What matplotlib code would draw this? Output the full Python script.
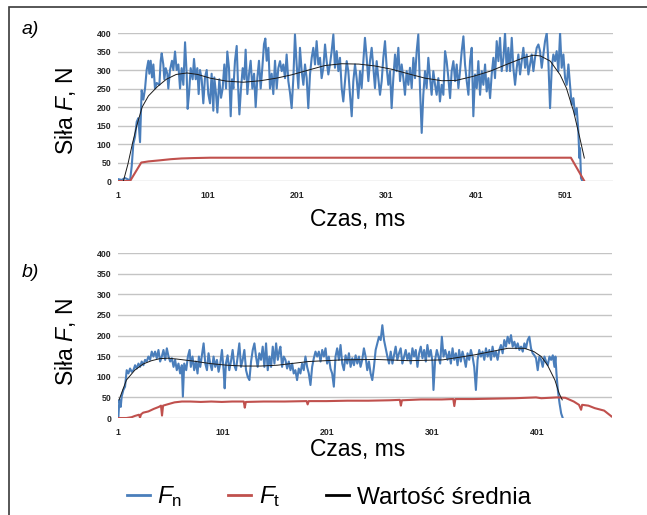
import matplotlib
matplotlib.use("Agg")
import matplotlib.pyplot as plt
from matplotlib.lines import Line2D
from matplotlib.patches import Rectangle

plt.rcParams["font.family"] = ["Liberation Sans", "DejaVu Sans"]
plt.rcParams["mathtext.fontset"] = "custom"
plt.rcParams["mathtext.rm"] = "Liberation Sans"
plt.rcParams["mathtext.it"] = "Liberation Sans:italic"

# (czas ms, sila N)
fn_a = [(1.4, 5), (5.1, 3), (8.8, 8), (12.5, 4), (14.4, 0), (16.3, 40), (18.1, 100), (20.0, 120),
        (21.9, 160), (23.7, 170), (25.6, 105), (27.4, 245), (29.3, 220), (31.2, 250), (33.0, 300),
        (34.9, 325), (36.0, 290), (37.5, 325), (39.0, 280), (40.5, 315), (42.3, 250), (44.2, 265),
        (47.2, 260), (48.7, 325), (49.8, 345), (51.6, 315), (52.8, 275), (54.3, 305), (56.1, 290),
        (57.2, 250), (59.1, 300), (61.3, 325), (62.8, 300), (64.7, 350), (66.5, 300), (68.4, 315),
        (70.3, 250), (72.1, 305), (74.0, 260), (75.9, 375), (77.7, 290), (78.8, 195), (80.3, 235),
        (82.2, 305), (84.4, 275), (85.9, 330), (87.8, 275), (89.6, 305), (91.1, 235), (92.6, 300),
        (94.5, 275), (96.3, 210), (98.2, 280), (100.1, 300), (101.9, 235), (103.8, 210), (105.6, 290),
        (107.5, 190), (108.6, 280), (110.5, 235), (112.0, 185), (114.2, 275), (116.1, 225), (117.9, 250),
        (119.8, 315), (121.7, 250), (123.1, 350), (125.0, 305), (126.9, 175), (128.4, 275), (129.9, 250),
        (131.7, 325), (133.6, 365), (135.1, 260), (136.6, 180), (138.4, 250), (140.3, 305), (142.1, 275),
        (143.6, 355), (145.5, 235), (147.4, 290), (149.2, 325), (151.1, 250), (153.0, 290), (154.8, 200),
        (156.7, 280), (158.5, 325), (160.4, 250), (162.2, 305), (164.1, 370), (165.6, 385), (167.1, 325),
        (169.0, 360), (170.8, 250), (172.7, 290), (174.5, 235), (176.4, 325), (178.3, 250), (180.1, 305),
        (182.0, 324), (183.9, 297), (185.7, 315), (187.6, 278), (189.4, 342), (191.3, 270), (193.2, 238),
        (195.0, 197), (196.9, 278), (198.7, 396), (200.6, 315), (202.5, 251), (204.3, 360), (206.2, 297),
        (208.1, 260), (209.9, 315), (211.8, 278), (213.6, 197), (215.5, 288), (217.4, 333), (219.2, 360),
        (221.1, 315), (222.9, 378), (224.8, 315), (226.7, 333), (228.5, 278), (230.4, 306), (232.3, 369),
        (234.1, 324), (236.0, 288), (237.8, 315), (239.7, 351), (241.6, 396), (243.4, 306), (245.3, 351),
        (247.2, 297), (249.0, 333), (250.9, 251), (252.7, 215), (254.6, 270), (256.5, 324), (258.3, 297),
        (260.2, 233), (262.1, 175), (263.9, 270), (265.8, 315), (267.6, 278), (269.5, 224), (271.4, 297),
        (273.2, 251), (275.1, 324), (276.9, 387), (278.8, 333), (280.7, 270), (282.5, 324), (284.4, 360),
        (286.3, 306), (288.1, 251), (290.0, 324), (291.8, 278), (293.7, 233), (295.6, 270), (297.4, 333),
        (299.3, 378), (301.2, 306), (303.0, 260), (304.9, 297), (306.7, 197), (308.6, 278), (310.5, 342),
        (312.3, 297), (314.2, 360), (316.1, 270), (317.9, 315), (319.8, 278), (321.6, 233), (323.5, 297),
        (325.4, 260), (327.2, 306), (329.1, 251), (331.0, 333), (332.8, 278), (334.7, 351), (336.5, 396),
        (338.4, 251), (340.3, 130), (342.1, 233), (344.0, 297), (345.8, 251), (347.7, 333), (349.6, 278),
        (351.4, 233), (353.3, 297), (355.2, 260), (357.0, 233), (358.9, 278), (360.7, 215), (362.6, 260),
        (364.5, 233), (366.4, 351), (368.2, 324), (370.1, 278), (372.0, 224), (373.8, 297), (375.7, 324),
        (377.6, 270), (379.4, 315), (381.3, 251), (383.1, 297), (385.0, 351), (386.9, 391), (388.7, 315),
        (390.6, 270), (392.5, 233), (394.3, 324), (396.2, 360), (398.0, 175), (399.9, 288), (401.8, 251),
        (403.6, 324), (405.5, 233), (407.4, 297), (409.2, 260), (411.1, 315), (412.9, 242), (414.8, 278),
        (416.7, 224), (418.5, 288), (420.4, 333), (422.2, 278), (424.1, 378), (426.0, 324), (427.8, 387),
        (429.7, 297), (431.6, 333), (433.4, 400), (435.3, 297), (437.1, 360), (439.0, 297), (440.9, 387),
        (442.7, 306), (444.6, 260), (446.5, 306), (448.3, 342), (450.2, 288), (452.0, 324), (453.9, 360),
        (455.8, 306), (457.6, 342), (459.5, 288), (461.3, 315), (463.2, 342), (465.1, 297), (466.9, 333),
        (468.8, 360), (470.7, 369), (472.5, 351), (474.4, 306), (476.2, 342), (478.1, 378), (480.0, 400),
        (481.8, 324), (483.7, 197), (485.6, 306), (487.4, 342), (489.3, 324), (491.1, 351), (493.0, 297),
        (494.9, 400), (496.7, 306), (498.6, 342), (500.5, 278), (502.3, 260), (504.2, 315), (506.0, 260),
        (507.9, 206), (509.8, 224), (511.6, 179), (513.5, 197), (515.3, 134), (516.5, 62), (517.2, 89),
        (518.3, 8), (519.8, 0)]

ft_a = [(1, 0), (14.5, 0), (27, 50), (35, 53), (48, 56), (60, 59), (72, 61), (85, 62), (104, 63),
        (200, 63), (300, 63), (400, 63), (507, 63), (522, 0)]

mean_a = [(7, 0), (12, 45), (17, 100), (22, 150), (28, 200), (35, 230), (45, 255), (55, 275), (66, 288),
          (78, 292), (90, 288), (104, 278), (122, 270), (141, 267), (160, 271), (178, 278), (195, 287),
          (214, 300), (232, 312), (251, 317), (270, 316), (288, 311), (307, 302), (325, 290), (344, 278),
          (363, 271), (379, 272), (398, 283), (417, 297), (435, 315), (454, 333), (465, 340), (473, 338),
          (484, 324), (495, 287), (502, 251), (510, 188), (517, 116), (522, 62)]

fn_b = [(1.3, 0), (2.3, 44), (3.6, 27), (4.5, 52), (6.1, 68), (7.7, 76), (9.3, 116), (10.9, 108),
        (12.5, 120), (14.1, 112), (15.7, 116), (17.3, 128), (18.9, 120), (20.5, 132), (22.1, 124),
        (23.6, 137), (25.2, 128), (26.8, 141), (28.4, 137), (30.0, 149), (31.6, 141), (33.2, 161),
        (34.8, 149), (36.4, 161), (38.0, 145), (39.6, 165), (41.2, 137), (42.8, 149), (44.4, 165),
        (46.0, 141), (47.6, 169), (49.2, 149), (50.8, 137), (52.4, 145), (54.0, 124), (55.5, 141),
        (57.1, 116), (58.7, 132), (60.3, 108), (61.9, 128), (62.9, 52), (64.2, 132), (66.1, 116),
        (67.7, 149), (69.3, 165), (70.5, 124), (72.1, 149), (73.7, 116), (75.3, 137), (76.9, 108),
        (78.2, 149), (79.5, 124), (81.4, 157), (82.7, 181), (84.3, 132), (85.9, 116), (87.4, 157),
        (89.0, 132), (90.6, 116), (92.2, 149), (93.8, 124), (95.4, 141), (97.0, 112), (98.6, 132),
        (100.2, 165), (101.8, 116), (102.8, 72), (104.0, 132), (105.6, 152), (107.2, 116), (108.8, 137),
        (110.4, 165), (112.0, 128), (113.6, 116), (115.2, 149), (116.8, 181), (118.4, 124), (120.0, 141),
        (121.6, 165), (123.2, 116), (124.8, 100), (126.4, 92), (128.0, 137), (129.6, 165), (131.2, 181),
        (132.7, 149), (134.3, 124), (135.9, 157), (137.5, 141), (139.1, 173), (140.7, 124), (142.3, 181),
        (143.9, 116), (145.5, 149), (147.1, 124), (148.7, 173), (150.3, 132), (151.9, 181), (153.5, 141),
        (155.1, 165), (156.0, 173), (157.6, 124), (159.2, 149), (160.8, 141), (162.4, 120), (164.0, 137),
        (165.6, 116), (167.2, 132), (168.7, 108), (170.3, 116), (171.9, 92), (173.5, 120), (175.1, 108),
        (176.7, 132), (178.3, 116), (179.9, 149), (181.5, 124), (183.1, 108), (184.7, 80), (186.3, 124),
        (187.9, 145), (189.5, 161), (191.1, 149), (192.7, 161), (194.3, 137), (195.9, 165), (197.5, 149),
        (199.1, 169), (200.6, 132), (202.2, 149), (203.8, 120), (205.4, 108), (207.0, 76), (208.6, 149),
        (210.2, 169), (211.8, 141), (213.4, 177), (215.0, 132), (216.6, 116), (218.2, 152), (219.8, 132),
        (221.4, 157), (223.0, 124), (224.6, 145), (226.2, 128), (227.8, 152), (229.4, 132), (231.0, 149),
        (232.5, 124), (234.1, 141), (235.7, 169), (237.3, 149), (238.9, 116), (240.5, 137), (242.1, 108),
        (243.7, 92), (245.3, 124), (246.9, 165), (248.5, 181), (250.1, 197), (251.7, 189), (253.3, 225),
        (254.9, 189), (256.5, 169), (258.1, 149), (259.7, 132), (261.3, 161), (262.9, 132), (264.4, 152),
        (266.0, 173), (267.6, 141), (269.2, 157), (270.8, 169), (272.4, 132), (274.0, 149), (275.6, 165),
        (277.2, 141), (278.8, 157), (280.4, 132), (282.0, 169), (283.6, 149), (285.2, 165), (286.8, 124),
        (288.4, 157), (290.0, 173), (291.6, 145), (293.2, 165), (294.8, 137), (296.3, 177), (297.9, 149),
        (299.5, 165), (301.1, 137), (302.1, 68), (303.7, 141), (305.3, 165), (306.9, 149), (308.5, 132),
        (310.1, 197), (311.7, 149), (313.3, 165), (315.5, 141), (317.1, 161), (318.7, 132), (320.3, 169),
        (321.9, 141), (323.5, 157), (325.1, 128), (326.6, 165), (328.2, 137), (329.8, 161), (331.4, 145),
        (333.0, 124), (334.6, 157), (336.2, 141), (337.8, 165), (339.4, 149), (341.0, 124), (342.6, 68),
        (344.2, 141), (345.8, 165), (347.4, 149), (349.0, 161), (350.6, 141), (352.2, 169), (353.8, 149),
        (355.4, 165), (357.0, 141), (358.5, 173), (360.1, 149), (361.7, 161), (363.3, 141), (364.9, 165),
        (366.5, 177), (368.1, 157), (369.7, 189), (371.3, 173), (372.9, 197), (374.5, 181), (376.1, 201),
        (377.7, 173), (379.3, 185), (380.9, 169), (382.5, 181), (384.1, 165), (385.7, 173), (387.3, 161),
        (388.9, 181), (390.4, 169), (392.0, 189), (393.6, 197), (395.2, 169), (396.8, 157), (398.4, 152),
        (400.0, 145), (401.6, 116), (403.2, 149), (404.8, 141), (406.4, 124), (408.0, 149), (409.6, 137),
        (411.2, 128), (412.8, 149), (414.4, 141), (416.0, 152), (417.6, 124), (418.5, 149), (419.5, 108),
        (420.8, 68), (422.4, 36), (424.0, 11), (425.5, 0)]

ft_b = [(1, 0), (9, 0), (14, 2), (17, 5), (21, 8), (22, 1), (23, 9), (25, 13), (30, 16), (35, 22),
        (40, 27), (42, 30), (43, 6), (44, 30), (48, 33), (55, 38), (62, 40), (70, 40), (80, 39), (90, 40),
        (100, 39), (110, 40), (121, 40), (122, 25), (123, 39), (140, 40), (160, 40), (181, 41), (182, 33),
        (183, 41), (200, 41), (220, 42), (240, 42), (260, 43), (270, 44), (271, 30), (272, 43), (290, 45),
        (310, 45), (321, 46), (322, 29), (323, 46), (340, 46), (360, 47), (380, 48), (400, 50), (405, 48),
        (420, 50), (428, 49), (436, 40), (441, 32), (443, 20), (444, 32), (450, 30), (456, 24), (465, 18),
        (472, 4)]

mean_b = [(2, 44), (9, 92), (17, 116), (25, 131), (33, 139), (41, 144), (49, 145), (57, 143), (73, 138),
          (89, 132), (105, 128), (121, 126), (137, 126), (153, 128), (183, 137), (215, 141), (247, 142),
          (279, 139), (311, 141), (341, 153), (357, 161), (373, 169), (389, 169), (398, 161), (405, 149),
          (411, 128), (418, 92), (422, 60), (425, 44)]

xticks_a = [1, 101, 201, 301, 401, 501]
xticks_b = [1, 101, 201, 301, 401]
yticks = [0, 50, 100, 150, 200, 250, 300, 350, 400]

blue = "#4a7ebb"
red = "#c0504d"

fig = plt.figure(figsize=(6.47, 5.15), dpi=100)
fig.patches.append(Rectangle((0.0139, -0.2), 1.2, 1.1864, transform=fig.transFigure,
                             fill=False, edgecolor="#3a3a3a", lw=1.2))

ax_a = fig.add_axes([0.1824, 0.6485, 0.765, 0.2874])
ax_b = fig.add_axes([0.1824, 0.1883, 0.7635, 0.3204])


def draw(ax, fn, ft, mean, xmax, xticks):
    t, v = zip(*fn)
    ax.plot(t, v, color=blue, lw=1.5)
    t, v = zip(*ft)
    ax.plot(t, v, color=red, lw=1.5)
    t, v = zip(*mean)
    ax.plot(t, v, color="#1a1a1a", lw=0.7)
    ax.set_xlim(1, xmax)
    ax.set_ylim(0, 400)
    ax.set_xticks(xticks)
    ax.set_yticks(yticks)
    ax.grid(axis="y", color="#c4c4c4", lw=1)
    ax.set_axisbelow(True)
    for s in ax.spines.values():
        s.set_visible(False)
    ax.tick_params(length=0, labelsize=6.3, labelcolor="#262626")
    ax.tick_params(axis="y", pad=5)
    ax.tick_params(axis="x", pad=7)
    for lab in ax.get_xticklabels() + ax.get_yticklabels():
        lab.set_fontweight("bold")


draw(ax_a, fn_a, ft_a, mean_a, 554, xticks_a)
draw(ax_b, fn_b, ft_b, mean_b, 472.5, xticks_b)

fig.text(0.034, 0.942, "a)", fontsize=14, style="italic", va="center")
fig.text(0.034, 0.470, "b)", fontsize=14, style="italic", va="center")
fig.text(0.102, 0.7845, "Siła $F$, N", rotation=90, fontsize=16.5, ha="center", va="center")
fig.text(0.102, 0.336, "Siła $F$, N", rotation=90, fontsize=16.5, ha="center", va="center")
fig.text(0.552, 0.561, "Czas, ms", fontsize=16.5, ha="center", va="baseline")
fig.text(0.552, 0.1146, "Czas, ms", fontsize=16.5, ha="center", va="baseline")

handles = [Line2D([], [], color=blue, lw=2), Line2D([], [], color=red, lw=2),
           Line2D([], [], color="black", lw=2)]
labels = ["$F_{\\mathrm{n}}$", "$F_{\\mathrm{t}}$", "Wartość średnia"]
fig.legend(handles, labels, loc="center", bbox_to_anchor=(0.508, 0.035), ncol=3, frameon=False,
           fontsize=17.5, handlelength=0.95, handletextpad=0.3, columnspacing=1.9)

fig.savefig("out.png", dpi=100)
